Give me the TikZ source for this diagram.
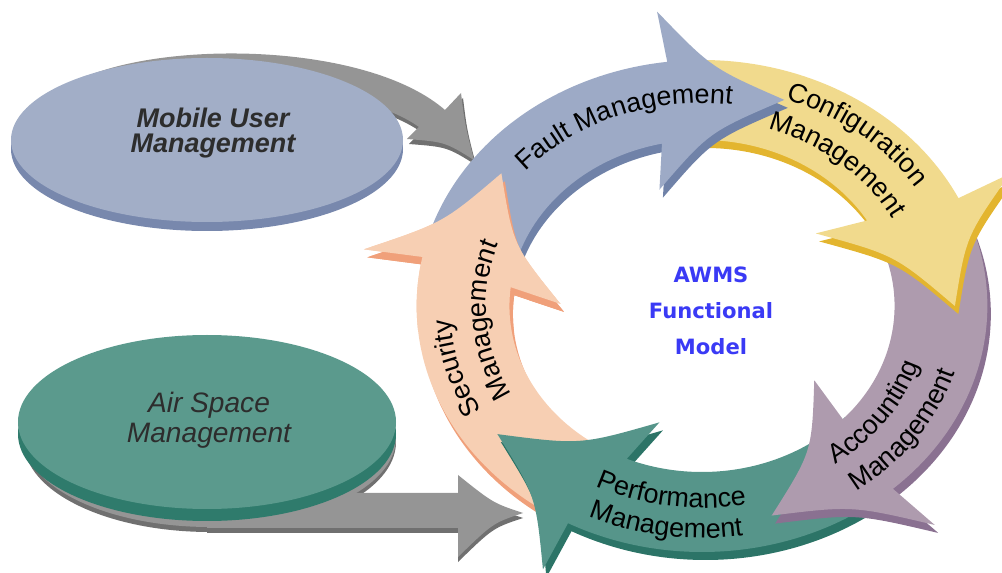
\documentclass[tikz,border=0pt]{standalone}
\usepackage{fontspec}
\setmainfont{Liberation Sans}
\newfontfamily\awmsfont{DejaVu Sans}
\usetikzlibrary{decorations.text}

\definecolor{faultblue}{RGB}{157,170,198}
\definecolor{faultdark}{RGB}{112,130,168}
\definecolor{configyellow}{RGB}{241,218,141}
\definecolor{configdark}{RGB}{227,181,47}
\definecolor{accpurple}{RGB}{174,155,174}
\definecolor{accdark}{RGB}{138,113,145}
\definecolor{perfteal}{RGB}{86,149,138}
\definecolor{perfdark}{RGB}{44,116,103}
\definecolor{secsalmon}{RGB}{247,207,179}
\definecolor{secdark}{RGB}{240,160,122}
\definecolor{mobileblue}{RGB}{162,174,199}
\definecolor{mobiledark}{RGB}{120,136,173}
\definecolor{airteal}{RGB}{91,154,141}
\definecolor{airdark}{RGB}{47,123,108}
\definecolor{arrowgray}{RGB}{149,149,149}
\definecolor{arrowdark}{RGB}{112,112,112}
\definecolor{labelgray}{RGB}{45,45,45}
\definecolor{awmsblue}{RGB}{58,58,245}

\newcommand\ringfont{\fontsize{23}{23}\selectfont}

% one arrow of the ring: tail angle outside, tail angle inside, head angle
\newcommand\ringpath[3]{(#1:246) arc[start angle=#1, end angle=#3, radius=246] -- ({#3-0.5}:297) .. controls ({#3+9}:238) .. ({#3+26}:218) .. controls ({#3+9}:174) .. ({#3-10.5}:122) -- ({#3-5}:166) arc[start angle={#3-5}, end angle=#2, radius=166] -- cycle}
\newcommand\ringarrow[5]{%
	\fill[#5, shift={(3,8)}] \ringpath{#1}{#2}{#3};
	\fill[#4] \ringpath{#1}{#2}{#3};}

% label along the ring: start angle, end angle, radius, text
\newcommand\ringlabel[4]{\path[ringtext={#4}] (#1:{1.16*#3} and #3) arc[start angle=#1, end angle=#2, x radius={1.16*#3}, y radius=#3];}

\tikzset{ringtext/.style={decorate, decoration={text along path, text align=center, text={|\ringfont|#1}}}}

\begin{document}
\begin{tikzpicture}[x=0.03cm, y=-0.03cm]
	\useasboundingbox (0,0) rectangle (1002,573);

	% Arrow from Mobile User Management
	\fill[arrowdark, shift={(2,5)}] (90,75) .. controls (180,40) and (370,45) .. (445,110) -- (461,93) .. controls (465,125) .. (474,160) .. controls (445,142) .. (407,139) -- (419,127) .. controls (360,85) and (220,80) .. (120,100) -- cycle;
	\fill[arrowgray] (90,75) .. controls (180,40) and (370,45) .. (445,110) -- (461,93) .. controls (465,125) .. (474,160) .. controls (445,142) .. (407,139) -- (419,127) .. controls (360,85) and (220,80) .. (120,100) -- cycle;

	% Arrow from Air Space Management
	\fill[arrowdark] (210,442) ellipse[x radius=186, y radius=90];
	\fill[arrowgray] (210,438) ellipse[x radius=186, y radius=89];
	\fill[arrowdark, shift={(0,5)}] (207,493) -- (458,493) -- (458,475) .. controls (493,503) .. (523,513) .. controls (493,523) .. (458,557) -- (458,528) -- (207,528) -- cycle;
	\fill[arrowgray] (207,493) -- (458,493) -- (458,475) .. controls (493,503) .. (523,513) .. controls (493,523) .. (458,557) -- (458,528) -- (207,528) -- cycle;

	% Ellipses
	\fill[mobiledark] (207,149) ellipse[x radius=196, y radius=82];
	\fill[mobileblue] (207,140) ellipse[x radius=196, y radius=82];
	\fill[airdark] (207,434) ellipse[x radius=189, y radius=87];
	\fill[airteal] (207,422) ellipse[x radius=189, y radius=87];

	% Ring of five arrows
	\begin{scope}[shift={(702,306)}, xscale=1.16]
		\ringarrow{125}{112}{191.5}{secsalmon}{secdark}    % Security
		\ringarrow{55}{42}{118}{perfteal}{perfdark}        % Performance
		\ringarrow{-19}{-32}{48}{accpurple}{accdark}       % Accounting
		\ringarrow{270}{257}{334}{configyellow}{configdark} % Configuration
		\ringarrow{198}{185}{263}{faultblue}{faultdark}    % Fault
		\begin{scope}
			\clip (-299,-150) rectangle (-109,25);
			\ringarrow{125}{112}{191.5}{secsalmon}{secdark} % Security head on top
		\end{scope}
	\end{scope}

	% Labels on the ring
	\begin{scope}[shift={(702,306)}]
		\ringlabel{177.4}{317.4}{203}{Fault Management}
		\ringlabel{241.5}{381.5}{219}{Configuration}
		\ringlabel{243}{383}{186}{Management}
		\ringlabel{102.6}{-37.4}{196}{Accounting}
		\ringlabel{102.5}{-37.5}{228}{Management}
		\ringlabel{169}{29}{202}{Performance}
		\ringlabel{169}{29}{232}{Management}
		\ringlabel{95.6}{235.6}{217}{Security}
		\ringlabel{106}{246}{186}{Management}
	\end{scope}

	\node[font=\fontsize{23}{21}\selectfont\bfseries\itshape, text=labelgray, align=center] (mobile) at (213,133) {Mobile User\\Management};
	\node[font=\fontsize{24}{26}\selectfont\itshape, text=labelgray, align=center] (air) at (209,420) {Air Space\\Management};
	\node[font=\awmsfont\bfseries\fontsize{18}{31}\selectfont, text=awmsblue, align=center] (awms) at (711,311) {AWMS\\Functional\\Model};
\end{tikzpicture}
\end{document}
